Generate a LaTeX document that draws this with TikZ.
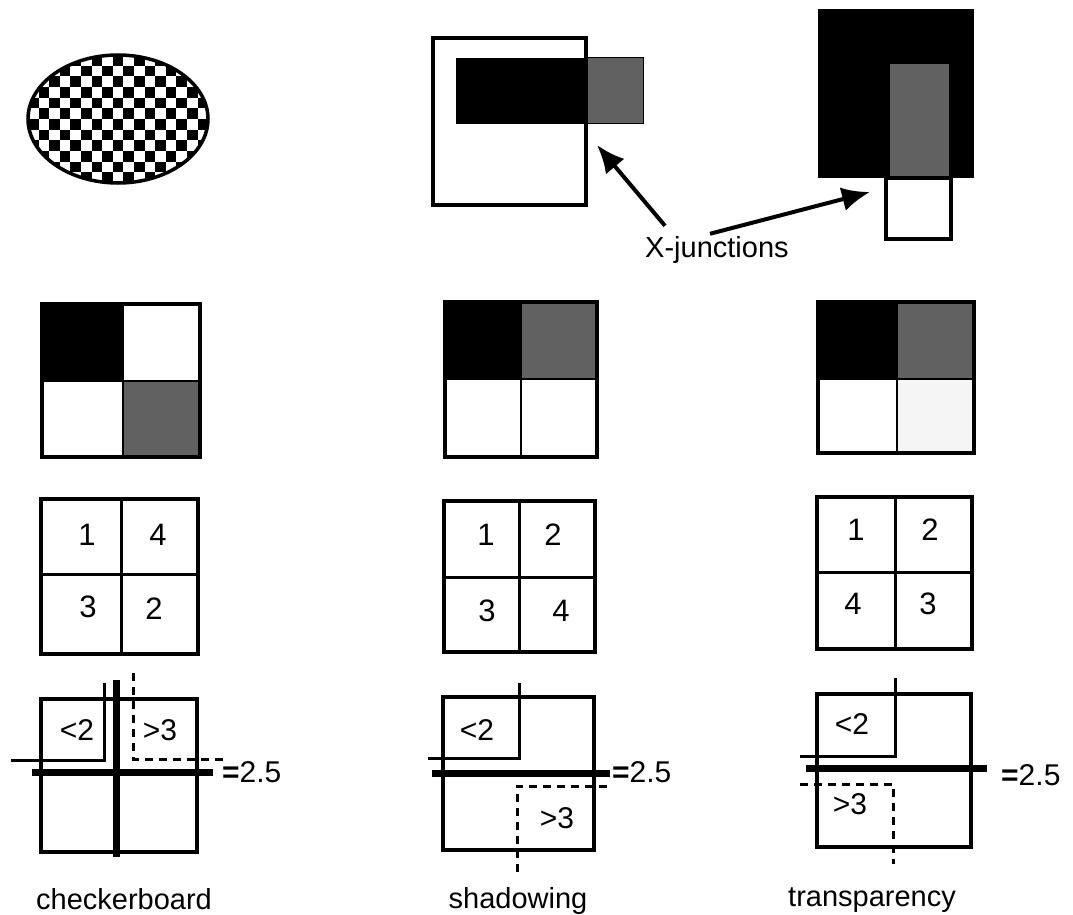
\documentclass[tikz,border=0pt]{standalone}
\usepackage{fontspec}
\setmainfont{Liberation Sans}
\usetikzlibrary{arrows.meta}
\colorlet{mid}{black!62}
\tikzset{
  lbl/.style={font=\fontsize{29}{32}\selectfont, inner sep=0pt},
  num/.style={font=\fontsize{31}{34}\selectfont, inner sep=0pt},
  cue/.style={font=\fontsize{30}{32}\selectfont, inner sep=0pt},
  frame/.style={draw, line width=3.5pt},
  bar/.style={line width=7pt},
  edge/.style={line width=3pt},
  hidden/.style={line width=3pt, dash pattern=on 8pt off 6pt},
  xarrow/.style={line width=4pt, -{Latex[length=28pt,width=24pt]}},
}

\begin{document}
\begin{tikzpicture}[x=1pt, y=-1pt]
  \useasboundingbox (0,0) rectangle (1073,915);

  % checkerboard ellipse
  \begin{scope}
    \clip (118,119) ellipse [x radius=90pt, y radius=64pt];
    \foreach \i in {0,...,16}
      \foreach \j in {0,...,11} {
        \pgfmathtruncatemacro\odd{mod(\i+\j,2)}
        \ifnum\odd=0
          \fill (28+10.6*\i,55+10.67*\j) rectangle ++(10.6,10.67);
        \fi
      }
  \end{scope}
  \draw[line width=3.5pt] (118,119) ellipse [x radius=90pt, y radius=64pt];

  % shadow figure
  \draw[line width=3.5pt] (433,38) rectangle (586,205);
  \fill (456,58) rectangle (587,124);
  \filldraw[fill=mid, line width=1pt] (587,58) rectangle (643,124);

  % transparent figure
  \fill (818,9) rectangle (974,178);
  \fill[mid] (890,64) rectangle (949,177);
  \draw[line width=3.5pt] (886,178) rectangle (951,239);

  \node[lbl, anchor=base west] (xj) at (645,257) {X-junctions};
  \coordinate (tipA) at (597,145);
  \coordinate (tipB) at (870,192);
  \draw[xarrow] ([shift={(20,-10)}]xj.north west) -- (tipA);
  \draw[xarrow] ([shift={(65,-2)}]xj.north west) -- (tipB);

  % luminance patterns
  \fill (42,304) rectangle (123,381);
  \fill[mid] (123,381) rectangle (200,457);
  \draw[line width=2.5pt] (123,304) -- (123,457) (42,381) -- (200,381);
  \draw[line width=3.5pt] (42,304) rectangle (200,457);

  \fill (445,302) rectangle (521,379);
  \fill[mid] (521,302) rectangle (597,379);
  \draw[line width=2.5pt] (521,302) -- (521,457) (445,379) -- (597,379);
  \draw[line width=3.5pt] (445,302) rectangle (597,457);

  \fill (818,302) rectangle (897,379);
  \fill[mid] (897,302) rectangle (974,379);
  \fill[black!4] (897,379) rectangle (974,453);
  \draw[line width=2.5pt] (897,302) -- (897,453) (818,379) -- (974,379);
  \draw[line width=3.5pt] (818,302) rectangle (974,453);

  % rank orders
  \draw[frame] (41,499) rectangle (198,654);
  \draw[edge] (121,499) -- (121,654) (41,574) -- (198,574);
  \node[num] (c1) at (87,535) {1};
  \node[num] (c4) at (158,535) {4};
  \node[num] (c3) at (88,607) {3};
  \node[num] (c2) at (154,609) {2};

  \draw[frame] (444,501) rectangle (595,652);
  \draw[edge] (519,501) -- (519,652) (444,577) -- (595,577);
  \node[num] (s1) at (486,535) {1};
  \node[num] (s2) at (553,535) {2};
  \node[num] (s3) at (487,611) {3};
  \node[num] (s4) at (561,611) {4};

  \draw[frame] (817,497) rectangle (972,649);
  \draw[edge] (895,497) -- (895,649) (817,572) -- (972,572);
  \node[num] (t1) at (856,530) {1};
  \node[num] (t2) at (930,530) {2};
  \node[num] (t4) at (853,604) {4};
  \node[num] (t3) at (928,604) {3};

  % thresholds: checkerboard
  \draw[frame] (41,699) rectangle (197,852);
  \draw[edge] (104,683) -- (104,760) -- (11,760);
  \draw[hidden] (133,673) -- (133,759) -- (225,759);
  \draw[bar] (116,680) -- (116,857);
  \draw[bar] (32,772) -- (213,772);
  \node[cue] (cl) at (77,730) {<2};
  \node[cue] (cg) at (160,730) {>3};
  \node[cue, anchor=west] (ce) at (222,772) {\textbf{=}2.5};
  \node[lbl, anchor=base] (cb) at (124,909) {checkerboard};

  % thresholds: shadowing
  \draw[frame] (443,697) rectangle (594,850);
  \draw[edge] (519,683) -- (519,758) -- (428,758);
  \draw[hidden] (517,872) -- (517,786) -- (608,786);
  \draw[bar] (432,773) -- (610,773);
  \node[cue] (sl) at (477,730) {<2};
  \node[cue] (sg) at (557,818) {>3};
  \node[cue, anchor=west] (se) at (612,772) {\textbf{=}2.5};
  \node[lbl, anchor=base] (sw) at (518,908) {shadowing};

  % thresholds: transparency
  \draw[frame] (817,694) rectangle (971,847);
  \draw[edge] (895,678) -- (895,756) -- (800,756);
  \draw[hidden] (800,784) -- (893,784) -- (893,864);
  \draw[bar] (806,768) -- (987,768);
  \node[cue] (tl) at (852,724) {<2};
  \node[cue] (tg) at (850,804) {>3};
  \node[cue, anchor=west] (te) at (1001,775) {\textbf{=}2.5};
  \node[lbl, anchor=base] (tp) at (872,906) {transparency};
\end{tikzpicture}
\end{document}
